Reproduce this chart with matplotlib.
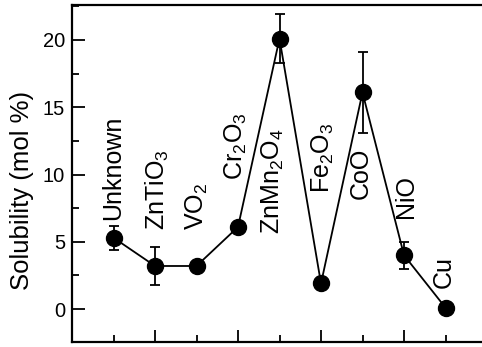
import matplotlib
matplotlib.use('Agg')
import matplotlib.pyplot as plt
from matplotlib.ticker import MultipleLocator

plt.rcParams['font.family'] = ['Liberation Sans', 'DejaVu Sans']
plt.rcParams['mathtext.fontset'] = 'custom'
plt.rcParams['mathtext.rm'] = 'Liberation Sans'
plt.rcParams['mathtext.default'] = 'regular'

# --- data ---
phases = ['Unknown', r'ZnTiO$_3$', r'VO$_2$', r'Cr$_2$O$_3$', r'ZnMn$_2$O$_4$',
          r'Fe$_2$O$_3$', 'CoO', 'NiO', 'Cu']
positions = [1, 2, 3, 4, 5, 6, 7, 8, 9]
solubility = [5.3, 3.2, 3.2, 6.1, 20.1, 1.9, 16.1, 4.0, 0.1]
errors = [0.9, 1.4, 0, 0, 1.8, 0, 3.0, 1.0, 0]

# where each vertical label starts (x, y in data units)
label_x = [1.0, 2.05, 3.0, 3.95, 4.85, 6.05, 6.95, 8.05, 8.95]
label_y = [6.6, 5.9, 5.9, 9.6, 5.6, 8.6, 8.2, 6.8, 1.6]

fig = plt.figure(figsize=(4.82, 3.47), dpi=100)
ax = fig.add_axes([72 / 482, 5 / 347, 415 / 482, 337 / 347])

ax.errorbar(positions, solubility, yerr=errors, fmt='o-', color='black',
            markersize=11.5, linewidth=1.3, elinewidth=1.3, capsize=3.5,
            capthick=1.3, zorder=3)

for name, x, y in zip(phases, label_x, label_y):
    ax.text(x, y, name, rotation=90, ha='center', va='bottom', fontsize=18)

ax.set_xlim(0, 10)
ax.set_ylim(-2.45, 22.6)
ax.xaxis.set_major_locator(MultipleLocator(2))
ax.xaxis.set_minor_locator(MultipleLocator(1))
ax.yaxis.set_major_locator(MultipleLocator(5))
ax.yaxis.set_minor_locator(MultipleLocator(2.5))
ax.tick_params(which='major', direction='in', length=9, width=1.3, labelsize=14.5, pad=5)
ax.tick_params(which='minor', direction='in', length=5, width=1.3)
ax.tick_params(axis='x', which='both', labelbottom=False)

for s in ax.spines.values():
    s.set_linewidth(1.6)

ax.set_ylabel('Solubility (mol %)', fontsize=18.5)
ax.yaxis.set_label_coords(-0.092, 0.45)

plt.savefig('out.png', dpi=100)
